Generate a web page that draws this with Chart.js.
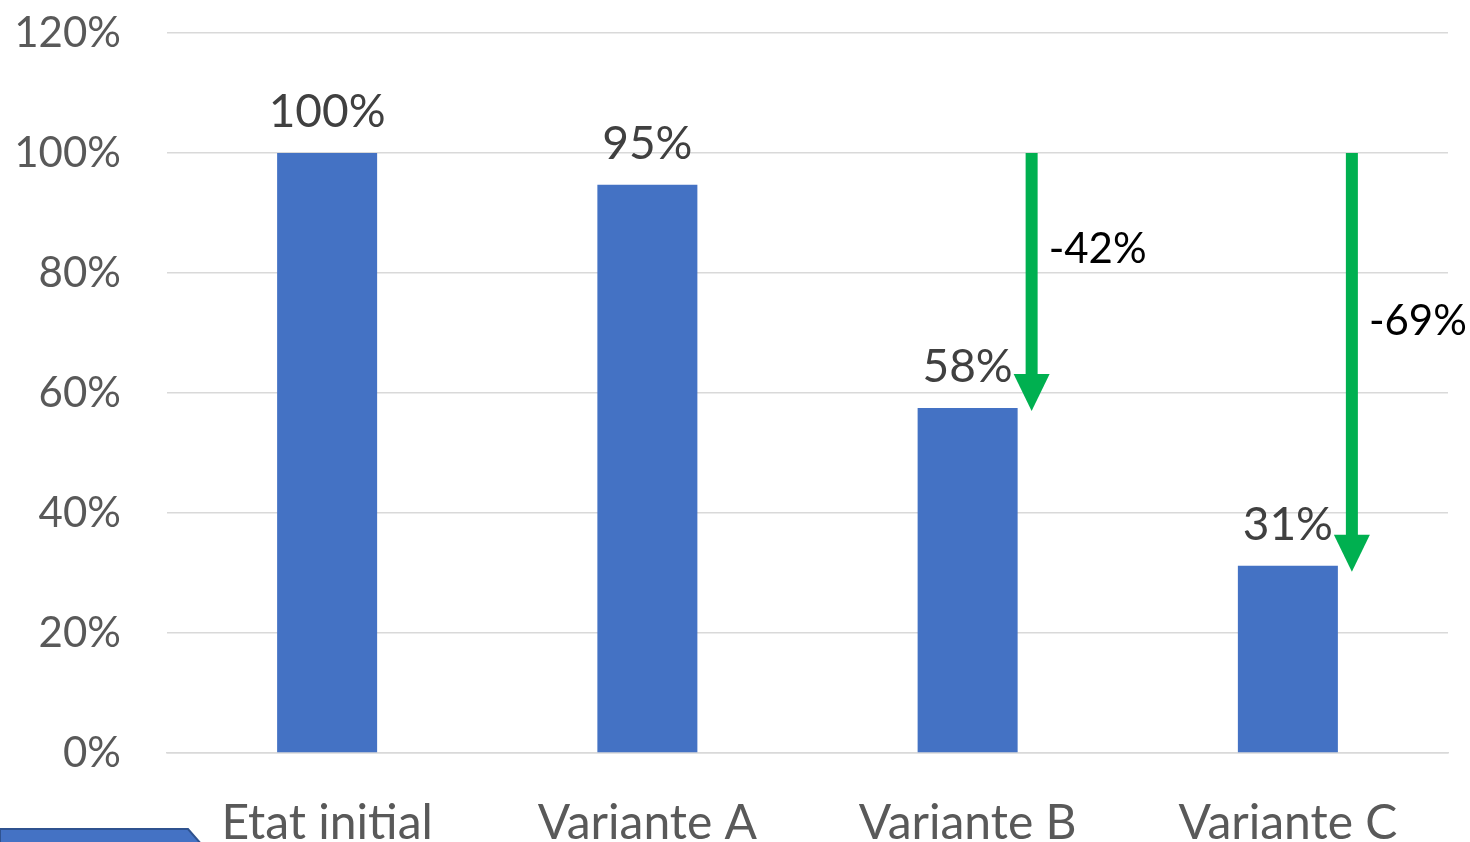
<!DOCTYPE html>
<html>
<head>
<meta charset="utf-8">
<script src="https://cdn.jsdelivr.net/npm/chart.js@4.4.1/dist/chart.umd.min.js"></script>
<style>
  html, body { margin: 0; padding: 0; background: #ffffff; }
  #wrap { width: 1470px; height: 842px; position: relative; }
</style>
</head>
<body>
<div id="wrap"><canvas id="c"></canvas></div>
<script>
// ---- data ----
const categories = ['Etat initial', 'Variante A', 'Variante B', 'Variante C'];
const consumption = [100, 94.7, 57.5, 31.2];          // bar heights (%)
const valueLabels = ['100%', '95%', '58%', '31%'];     // labels above bars
const arrowFrom = [null, null, 100, 100];              // arrow start (%)
const arrowTo = [null, null, 57, 30.2];                // arrow tip (%)
const arrowText = [null, null, '-42%', '-69%'];         // reduction labels
const arrowTextAt = [null, null, 84, 72];               // label vertical position (%)
const yTicks = [0, 20, 40, 60, 80, 100, 120];

const FONT = 'Lato, "Open Sans", sans-serif';

const annotations = {
  id: 'annotations',
  afterDatasetsDraw(chart) {
    const ctx = chart.ctx;
    const meta = chart.getDatasetMeta(0);
    const y = chart.scales.y;
    ctx.save();
    // value labels above bars
    ctx.fillStyle = '#404040';
    ctx.font = '46px ' + FONT;
    ctx.textAlign = 'center';
    ctx.textBaseline = 'alphabetic';
    meta.data.forEach((bar, i) => {
      ctx.fillText(valueLabels[i], bar.x, bar.y - 26);
    });
    // arrows
    meta.data.forEach((bar, i) => {
      if (arrowFrom[i] == null) return;
      const ax = bar.x + 64;
      const y0 = y.getPixelForValue(arrowFrom[i]);
      const y1 = y.getPixelForValue(arrowTo[i]);
      const headL = 37, headW = 36, shaftW = 12;
      ctx.fillStyle = '#00B050';
      ctx.fillRect(ax - shaftW / 2, y0, shaftW, (y1 - headL) - y0 + 1);
      ctx.beginPath();
      ctx.moveTo(ax - headW / 2, y1 - headL);
      ctx.lineTo(ax + headW / 2, y1 - headL);
      ctx.lineTo(ax, y1);
      ctx.closePath();
      ctx.fill();
      ctx.fillStyle = '#000000';
      ctx.font = '42px ' + FONT;
      ctx.textAlign = 'left';
      ctx.textBaseline = 'middle';
      ctx.fillText(arrowText[i], ax + 17, y.getPixelForValue(arrowTextAt[i]));
    });
    ctx.restore();
  },
  afterDraw(chart) {
    // decorative slide shape at bottom-left
    const ctx = chart.ctx;
    ctx.save();
    ctx.beginPath();
    ctx.moveTo(0, 829);
    ctx.lineTo(188, 829);
    ctx.lineTo(202, 845);
    ctx.lineTo(0, 845);
    ctx.closePath();
    ctx.fillStyle = '#4472C4';
    ctx.fill();
    ctx.strokeStyle = '#2F528F';
    ctx.lineWidth = 2;
    ctx.stroke();
    ctx.restore();
  }
};

new Chart(document.getElementById('c'), {
  type: 'bar',
  data: {
    labels: categories,
    datasets: [{
      data: consumption,
      backgroundColor: '#4472C4',
      borderWidth: 0,
      categoryPercentage: 1,
      barPercentage: 0.3123
    }]
  },
  options: {
    responsive: true,
    maintainAspectRatio: false,
    animation: false,
    layout: { padding: { top: 0, right: 22, left: 0, bottom: 0 } },
    plugins: { legend: { display: false }, tooltip: { enabled: false }, title: { display: false } },
    scales: {
      x: {
        grid: { display: false, drawTicks: false },
        border: { display: true, color: '#D9D9D9', width: 1.5 },
        ticks: { color: '#595959', font: { family: FONT, size: 48 }, padding: 42, maxRotation: 0 },
        afterFit(s) { s.height = 89; }
      },
      y: {
        min: 0, max: 120,
        afterBuildTicks(s) { s.ticks = yTicks.map(v => ({ value: v })); },
        grid: { color: '#D9D9D9', lineWidth: 1.5, drawTicks: false },
        border: { display: false },
        ticks: { color: '#595959', font: { family: FONT, size: 42 }, padding: 46,
                 callback: v => v + '%' },
        afterFit(s) { s.width = 167; s.paddingTop = 33; }
      }
    }
  },
  plugins: [annotations]
});
</script>
</body>
</html>
